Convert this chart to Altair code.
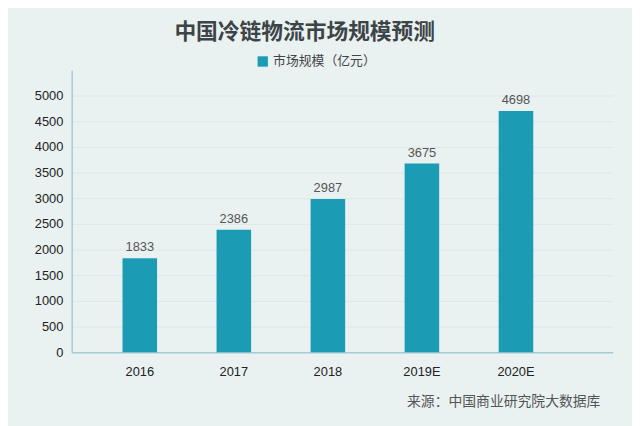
import altair as alt
import pandas as pd

years = ["2016", "2017", "2018", "2019E", "2020E"]
values = [1833, 2386, 2987, 3675, 4698]
series = ["市场规模（亿元）"] * len(years)

df = pd.DataFrame({"year": years, "value": values, "series": series})

TEAL = "#1b9cb4"
BG = "#e9f1f1"
CJK = "Noto Sans CJK SC"
LAT = "Liberation Sans"

x_enc = alt.X(
    "year:N",
    sort=years,
    scale=alt.Scale(paddingInner=0.6325, paddingOuter=0.693, align=0.39),
    axis=alt.Axis(
        title="来源：中国商业研究院大数据库",
        titleFont=CJK,
        titleFontSize=14,
        titleFontWeight="normal",
        titleColor="#555555",
        titleAlign="right",
        titleBaseline="bottom",
        titleX=535,
        titleY=57,
        labelAngle=0,
        labelFont=LAT,
        labelFontSize=13,
        labelColor="#222222",
        labelPadding=14,
        ticks=False,
        domainColor="#a4cdd3",
        domainWidth=1.5,
        grid=False,
    ),
)

y_enc = alt.Y(
    "value:Q",
    scale=alt.Scale(domain=[0, 5500], nice=False),
    axis=alt.Axis(
        title=None,
        values=[0, 500, 1000, 1500, 2000, 2500, 3000, 3500, 4000, 4500, 5000],
        format="d",
        labelOverlap=False,
        labelFont=LAT,
        labelFontSize=13,
        labelColor="#222222",
        labelPadding=9,
        ticks=False,
        domainColor="#a4cdd3",
        domainWidth=1.5,
        grid=True,
        gridColor="#dde7e7",
        gridWidth=1,
    ),
)

base = alt.Chart(df).encode(x=x_enc, y=y_enc)

bars = base.mark_bar().encode(
    color=alt.Color(
        "series:N",
        scale=alt.Scale(range=[TEAL]),
        legend=alt.Legend(
            title=None,
            orient="none",
            legendX=187,
            legendY=-15,
            direction="horizontal",
            symbolType="square",
            symbolSize=110,
            symbolStrokeWidth=0,
            labelFont=CJK,
            labelFontSize=13,
            labelColor="#444444",
            labelOffset=4,
        ),
    ),
)

labels = base.mark_text(
    dy=-4, font=LAT, fontSize=13, color="#555555", baseline="bottom"
).encode(
    text=alt.Text("value:Q"),
)

chart = (
    alt.layer(bars, labels)
    .properties(
        width=548,
        height=286,
        autosize=alt.AutoSizeParams(type="none"),
        padding={"left": 64.5, "top": 60, "right": 19.5, "bottom": 72},
        background=BG,
        title=alt.TitleParams(
            text="中国冷链物流市场规模预测",
            font=CJK,
            fontSize=22,
            fontWeight="bold",
            color="#3d4447",
            anchor="middle",
            dx=-38,
            offset=11,
        ),
    )
    .configure_view(stroke=None)
)

chart.save("out.html", embed_options={"renderer": "svg", "actions": False})
